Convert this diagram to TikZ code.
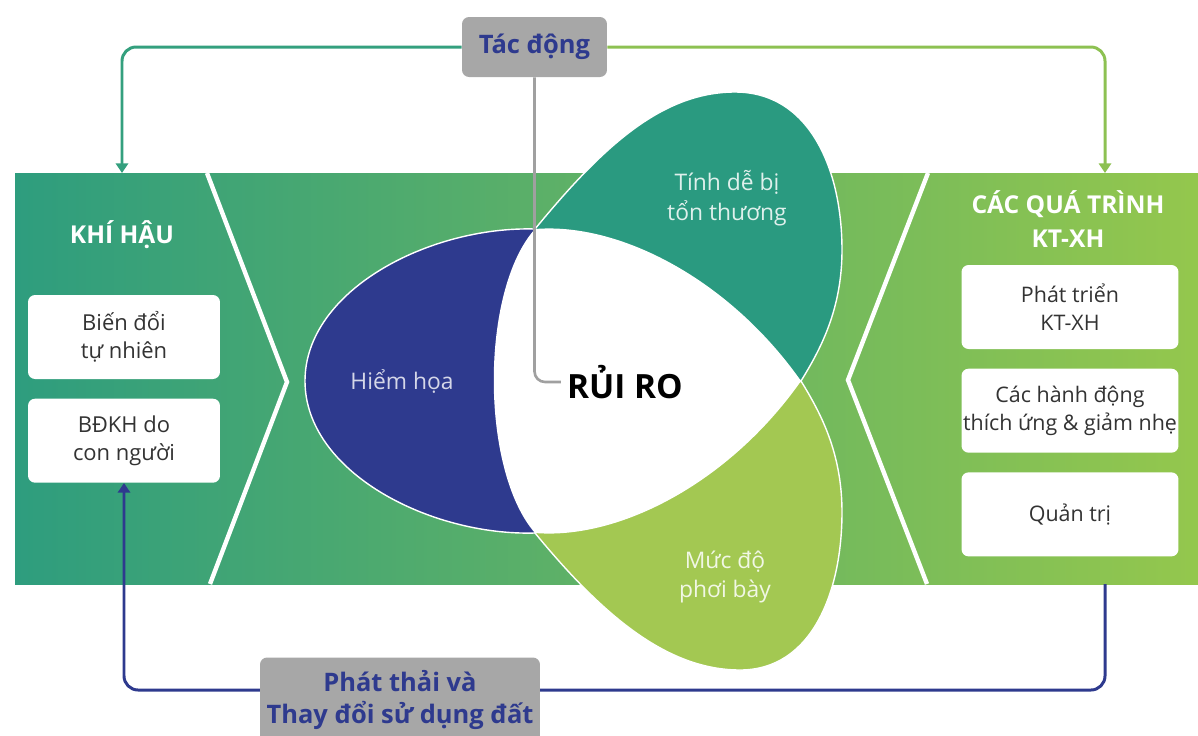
\documentclass[tikz,border=0pt]{standalone}
\usepackage{fontspec}
\setmainfont{Open Sans}
\usetikzlibrary{arrows.meta, positioning}

\definecolor{bandl}{RGB}{46,157,126}
\definecolor{bandr}{RGB}{148,199,77}
\definecolor{navyblue}{RGB}{46,58,142}
\definecolor{petalteal}{RGB}{42,154,128}
\definecolor{petallime}{RGB}{163,200,82}
\definecolor{boxgray}{RGB}{167,167,167}
\definecolor{linegray}{RGB}{160,160,160}
\definecolor{txtgray}{RGB}{51,51,51}
\definecolor{linkteal}{RGB}{52,160,126}
\definecolor{linklime}{RGB}{141,193,82}

\begin{document}
\begin{tikzpicture}[x=0.02cm, y=-0.02cm,
    >={Triangle[width=7pt,length=5.5pt]},
    infobox/.style={fill=white, rounded corners=4pt, minimum width=3.84cm, minimum height=1.68cm,
        align=center, text=txtgray, font={\fontsize{12.5}{16}\selectfont}},
    rightbox/.style={infobox, minimum width=4.34cm, inner xsep=0pt, font={\fontsize{12.2}{16}\selectfont}},
    graybox/.style={fill=boxgray, rounded corners=4pt, align=center, text=navyblue,
        font={\bfseries\fontsize{14.5}{18}\selectfont}},
    head/.style={text=white, align=center, font={\bfseries\fontsize{14}{19}\selectfont}},
    petaltext/.style={align=center, font={\fontsize{13}{17}\selectfont}},
    petal/.style={draw=white, line width=0.8pt},
    chev/.style={white, line width=2.5pt},
    link/.style={line width=1.7pt, rounded corners=8pt}]
    \useasboundingbox (0,0) rectangle (1198,735);

    % band and chevrons
    \fill[left color=bandl, right color=bandr] (15,173) rectangle (1198,584);
    \draw[chev] (207,173) -- (287,382) -- (210,584);
    \draw[chev] (928,173) -- (848,380) -- (927,584);

    % petals
    \path[petal, fill=petalteal] (535,229) .. controls (600,150) and (660,92) .. (735,92)
        .. controls (810,92) and (842,170) .. (842,250) .. controls (842,310) and (820,350) .. (801,381) -- cycle;
    \path[petal, fill=petallime] (535,533) .. controls (600,612) and (665,670) .. (740,670)
        .. controls (812,670) and (842,592) .. (842,512) .. controls (842,452) and (820,412) .. (801,381) -- cycle;
    \path[petal, fill=navyblue] (535,229) .. controls (430,226) and (305,290) .. (305,381)
        .. controls (305,472) and (430,536) .. (535,533) -- cycle;
    \path[fill=white] (535,229) .. controls (620,222) and (730,280) .. (801,381)
        .. controls (730,482) and (620,540) .. (535,533) .. controls (480,470) and (480,290) .. (535,229) -- cycle;

    % nodes
    \node[graybox, minimum width=2.9cm, minimum height=1.2cm] (tacdong) at (534.5,47) {Tác động};
    \node[font={\bfseries\fontsize{19}{22}\selectfont}] (rr) at (625,382) {RỦI RO};
    \node[head] (kh) at (122,235) {KHÍ HẬU};
    \node[head] (ktxh) at (1068,219) {CÁC QUÁ TRÌNH\\KT-XH};
    \node[infobox] (bd1) at (124,337) {Biến đổi\\tự nhiên};
    \node[infobox, below=0.38cm of bd1] (bd2) {BĐKH do\\con người};
    \node[rightbox] (pt) at (1070,307) {Phát triển\\KT-XH};
    \node[rightbox, below=0.38cm of pt] (hd) {Các hành động\\thích ứng \& giảm nhẹ};
    \node[rightbox, below=0.38cm of hd] (qt) {Quản trị};
    \node[petaltext, text=navyblue!20!white] (hh) at (402,382) {Hiểm họa};
    \node[petaltext, text=petalteal!15!white] (dbt) at (727,198) {Tính dễ bị\\tổn thương};
    \node[petaltext, text=petallime!15!white] (pb) at (725,577) {Mức độ\\phơi bày};

    \coordinate (khin) at (122,173);
    \coordinate (ktin) at (1105,173);
    \coordinate (ktout) at (1105,584);
    \coordinate (loopy) at (0,690);

    % connectors
    \draw[linegray, line width=1.5pt, rounded corners=6pt] (tacdong.south) |- (rr.west);
    \draw[link, linkteal, ->] (tacdong.west) -| (khin);
    \draw[link, linklime, ->] (tacdong.east) -| (ktin);
    \draw[link, navyblue, ->] (ktout) |- (bd2.south |- loopy) -- (bd2.south);

    \node[graybox, minimum width=5.6cm, minimum height=1.7cm] (phatthai) at (400,700) {Phát thải và\\Thay đổi sử dụng đất};
\end{tikzpicture}
\end{document}
